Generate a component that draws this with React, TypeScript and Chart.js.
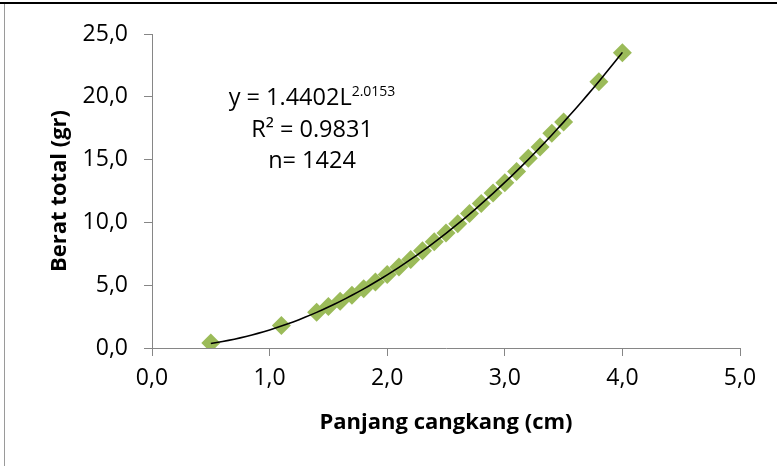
import React, { useEffect, useRef } from "react";
import { Chart, registerables } from "chart.js";

Chart.register(...registerables);

// Shell length (cm) of sampled points
const lengthCm = [0.5, 1.1, 1.4, 1.5, 1.6, 1.7, 1.8, 1.9, 2.0, 2.1, 2.2, 2.3, 2.4, 2.5, 2.6, 2.7, 2.8, 2.9, 3.0, 3.1, 3.2, 3.3, 3.4, 3.5, 3.8, 4.0];
// Total weight (gr) of sampled points
const weightGr = [0.4, 1.8, 2.85, 3.3, 3.72, 4.2, 4.72, 5.25, 5.85, 6.45, 7.05, 7.75, 8.45, 9.15, 9.9, 10.7, 11.5, 12.35, 13.15, 14.05, 15.1, 16.0, 17.1, 18.0, 21.2, 23.5];

const xTicks = [0, 1, 2, 3, 4, 5];
const yTicks = [0, 5, 10, 15, 20, 25];

// Power trendline from the chart: y = a * L^b
const fitA = 1.4402;
const fitB = 2.0153;
const fitFrom = 0.5;
const fitTo = 4.0;

const eqMain = "y = 1.4402L";
const eqSup = "2.0153";
const r2Text = "R² = 0.9831";
const nText = "n= 1424";

const xTitle = "Panjang cangkang (cm)";
const yTitle = "Berat total (gr)";

const FONT = "'Open Sans', 'Noto Sans', sans-serif";

function fmt(v: number) {
  return v.toFixed(1).replace(".", ",");
}

export default function App() {
  const ref = useRef<HTMLCanvasElement | null>(null);

  useEffect(() => {
    document.body.style.margin = "0";
    const canvas = ref.current;
    if (!canvas) return;

    const trend: { x: number; y: number }[] = [];
    const steps = 70;
    for (let i = 0; i <= steps; i++) {
      const x = fitFrom + ((fitTo - fitFrom) * i) / steps;
      trend.push({ x, y: fitA * Math.pow(x, fitB) });
    }

    const framePlugin = {
      id: "frame",
      beforeDraw(chart: any) {
        const ctx = chart.ctx;
        ctx.save();
        ctx.fillStyle = "#ffffff";
        ctx.fillRect(0, 0, chart.width, chart.height);
        ctx.strokeStyle = "#9a9a9a";
        ctx.lineWidth = 1;
        ctx.beginPath();
        ctx.moveTo(4.5, 3);
        ctx.lineTo(4.5, chart.height);
        ctx.stroke();
        ctx.strokeStyle = "#000000";
        ctx.lineWidth = 2;
        ctx.beginPath();
        ctx.moveTo(0, 3);
        ctx.lineTo(chart.width, 3);
        ctx.stroke();
        ctx.restore();
      },
      afterDraw(chart: any) {
        const ctx = chart.ctx;
        ctx.save();
        ctx.fillStyle = "#000000";
        ctx.textBaseline = "alphabetic";
        const cx = 312;
        const mainFont = `23.5px ${FONT}`;
        const supFont = `14px ${FONT}`;
        ctx.font = mainFont;
        const wMain = ctx.measureText(eqMain).width;
        ctx.font = supFont;
        const wSup = ctx.measureText(eqSup).width;
        const x0 = cx - (wMain + wSup) / 2;
        ctx.textAlign = "left";
        ctx.font = mainFont;
        ctx.fillText(eqMain, x0, 105);
        ctx.font = supFont;
        ctx.fillText(eqSup, x0 + wMain, 96);
        ctx.font = mainFont;
        ctx.textAlign = "center";
        ctx.fillText(r2Text, cx, 137);
        ctx.fillText(nText, cx, 168);
        ctx.restore();
      },
    };

    const axisColor = "#868686";

    const chart = new Chart(canvas, {
      type: "scatter",
      data: {
        datasets: [
          {
            label: "trend",
            data: trend,
            showLine: true,
            borderColor: "#000000",
            borderWidth: 1.6,
            pointRadius: 0,
            order: 0,
          } as any,
          {
            label: "data",
            data: lengthCm.map((x, i) => ({ x, y: weightGr[i] })),
            pointStyle: "rectRot",
            pointRadius: 9.5,
            backgroundColor: "#9BBB59",
            borderColor: "#9BBB59",
            borderWidth: 0,
            order: 1,
          },
        ],
      },
      options: {
        animation: false,
        responsive: false,
        devicePixelRatio: 1,
        layout: { padding: { top: 34, right: 37, left: 0, bottom: 0 } },
        plugins: {
          legend: { display: false },
          tooltip: { enabled: false },
        },
        scales: {
          x: {
            type: "linear",
            min: 0,
            max: 5,
            afterFit(scale: any) {
              scale.height = 118;
            },
            afterBuildTicks(scale: any) {
              scale.ticks = xTicks.map((v) => ({ value: v }));
            },
            ticks: {
              callback: (v: any) => fmt(Number(v)),
              color: "#000000",
              font: { family: FONT, size: 23 },
              padding: 9,
              maxRotation: 0,
            },
            grid: { drawOnChartArea: false, drawTicks: true, tickLength: 8, color: axisColor },
            border: { display: true, color: axisColor, width: 1 },
            title: {
              display: true,
              text: xTitle,
              color: "#000000",
              font: { family: FONT, size: 22, weight: "bold" },
              padding: { top: 0, bottom: 30 },
            },
          },
          y: {
            type: "linear",
            min: 0,
            max: 25,
            afterFit(scale: any) {
              scale.width = 152;
            },
            afterBuildTicks(scale: any) {
              scale.ticks = yTicks.map((v) => ({ value: v }));
            },
            ticks: {
              callback: (v: any) => fmt(Number(v)),
              color: "#000000",
              font: { family: FONT, size: 23 },
              padding: 16,
            },
            grid: { drawOnChartArea: false, drawTicks: true, tickLength: 8, color: axisColor },
            border: { display: true, color: axisColor, width: 1 },
            title: {
              display: true,
              text: yTitle,
              color: "#000000",
              font: { family: FONT, size: 22, weight: "bold" },
              padding: { top: 47, bottom: 0 },
            },
          },
        },
      },
      plugins: [framePlugin],
    });

    return () => chart.destroy();
  }, []);

  return (
    <div style={{ width: 777, height: 466 }}>
      <canvas ref={ref} width={777} height={466} style={{ display: "block" }} />
    </div>
  );
}
